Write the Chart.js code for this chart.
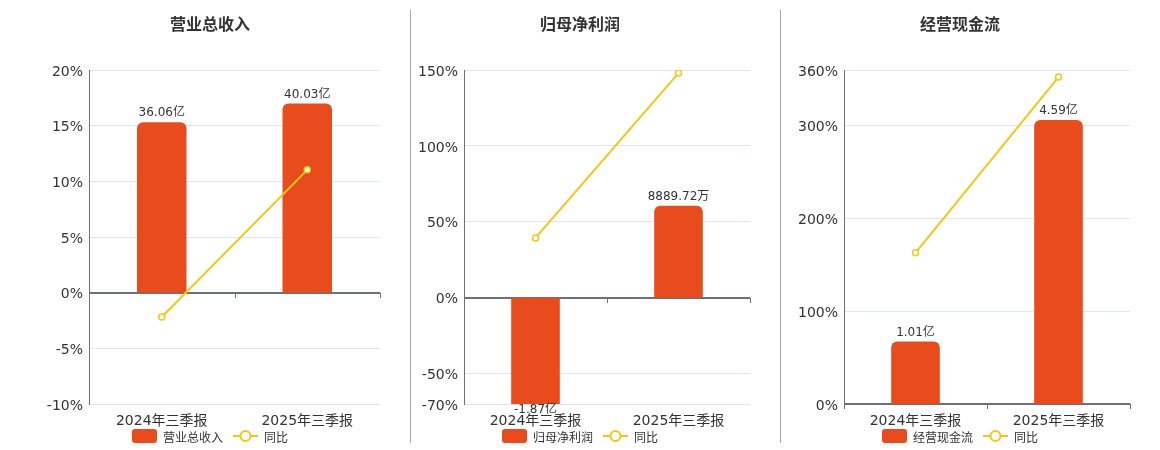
<!DOCTYPE html>
<html><head><meta charset="utf-8">
<script src="https://cdn.jsdelivr.net/npm/chart.js@4.4.1/dist/chart.umd.min.js"></script>
<style>
html,body{margin:0;padding:0;width:1160px;height:450px;overflow:hidden;background:#fff;}
.panel{position:absolute;top:0;width:400px;height:450px;}
.title{position:absolute;top:13px;left:0;width:400px;text-align:center;font:bold 16px "Noto Sans CJK SC",sans-serif;color:#333;line-height:20px;}
.divider{position:absolute;top:10px;width:1px;height:433px;background:#a8a8a8;}
.legend{position:absolute;left:0;width:400px;top:428px;height:16px;display:flex;justify-content:center;align-items:center;
  font:12px "DejaVu Sans","Noto Sans CJK SC",sans-serif;color:#333;}
.item{display:flex;align-items:center;margin:0 5px;}
.item svg{margin-right:6px;display:block;}
</style></head><body>
<div class="panel" style="left:10px"><div class="title" id="t0"></div><canvas id="c0" width="400" height="450"></canvas><div class="legend" id="l0"></div></div>
<div class="panel" style="left:380px"><div class="title" id="t1"></div><canvas id="c1" width="400" height="450"></canvas><div class="legend" id="l1"></div></div>
<div class="panel" style="left:760px"><div class="title" id="t2"></div><canvas id="c2" width="400" height="450"></canvas><div class="legend" id="l2"></div></div>
<div class="divider" style="left:410px"></div>
<div class="divider" style="left:780px"></div>
<script>
const categories = ['2024年三季报', '2025年三季报'];
const titles = ['营业总收入', '归母净利润', '经营现金流'];
const yoyLabel = '同比';
// bar values in 亿
const revenue = [36.06, 40.03];
const revenueYoY = [-2.19, 11.03];
const netProfit = [-1.87, 0.888972];
const netProfitYoY = [39.4, 148.0];
const cashFlow = [1.01, 4.59];
const cashFlowYoY = [163.0, 352.4];
const revenueTicks = [-10, -5, 0, 5, 10, 15, 20];
const netProfitTicks = [-70, -50, 0, 50, 100, 150];
const cashFlowTicks = [0, 100, 200, 300, 360];

const BAR = '#E84C1D', LINE = '#F5C518', AXIS = '#6E7079', GRID = '#E0E6F1', TXT = '#333';
const FONT = '"DejaVu Sans", "Noto Sans CJK SC", sans-serif';

function fmt(v) {
  return Math.abs(v) >= 1 ? v.toFixed(2) + '亿' : (v * 10000).toFixed(2) + '万';
}

const barLabels = {
  id: 'barLabels',
  afterDatasetsDraw(chart) {
    const ctx = chart.ctx, area = chart.chartArea;
    const meta = chart.getDatasetMeta(0);
    const data = chart.data.datasets[0].data;
    ctx.save();
    ctx.font = '12px ' + FONT;
    ctx.fillStyle = TXT;
    ctx.textAlign = 'center';
    ctx.textBaseline = 'middle';
    meta.data.forEach((el, i) => {
      const v = data[i];
      let y;
      if (v >= 0) y = Math.max(el.y, area.top) - 9;
      else y = Math.min(el.y, area.bottom) + 6;
      ctx.fillText(fmt(v), el.x, y);
    });
    ctx.restore();
  }
};

const zeroTicks = {
  id: 'zeroTicks',
  afterDatasetsDraw(chart) {
    const xs = chart.scales.x, ys = chart.scales.y;
    const y0 = Math.round(ys.getPixelForValue(0));
    const n = chart.data.labels.length;
    const w = (xs.right - xs.left) / n;
    const ctx = chart.ctx;
    ctx.save();
    ctx.strokeStyle = AXIS; ctx.lineWidth = 1;
    for (let i = 0; i <= n; i++) {
      const px = Math.round(xs.left + i * w) + 0.5;
      ctx.beginPath(); ctx.moveTo(px, y0); ctx.lineTo(px, y0 + 5); ctx.stroke();
    }
    ctx.restore();
  }
};

function htmlLegend(idx, chart) {
  const box = document.getElementById('l' + idx);
  chart.data.datasets.forEach(ds => {
    const item = document.createElement('div');
    item.className = 'item';
    const icon = ds.type === 'bar'
      ? '<svg width="25" height="14"><rect x="0" y="0" width="25" height="14" rx="3" fill="' + ds.backgroundColor + '"/></svg>'
      : '<svg width="25" height="14"><line x1="0" y1="7" x2="25" y2="7" stroke="' + ds.borderColor + '" stroke-width="2"/><circle cx="12.5" cy="7" r="5" fill="#fff" stroke="' + ds.borderColor + '" stroke-width="2"/></svg>';
    item.innerHTML = icon;
    const t = document.createElement('span');
    t.textContent = ds.label;
    item.appendChild(t);
    box.appendChild(item);
  });
}

function build(idx, title, bars, yoy, ticks, axisW) {
  document.getElementById('t' + idx).textContent = title;
  const tMin = ticks[0], tMax = ticks[ticks.length - 1];
  const maxAbs = Math.max(...bars.map(Math.abs));
  const y2max = maxAbs / 0.85;
  const y2min = y2max * tMin / tMax;
  const chart = new Chart(document.getElementById('c' + idx), {
    type: 'bar',
    data: {
      labels: categories,
      datasets: [
        { type: 'bar', label: title, data: bars, yAxisID: 'y2', order: 1,
          backgroundColor: BAR, borderRadius: 6, borderSkipped: 'start',
          barPercentage: 0.34, categoryPercentage: 1, clip: 0 },
        { type: 'line', label: yoyLabel, data: yoy, yAxisID: 'y', order: 0,
          borderColor: LINE, borderWidth: 2, pointRadius: 3, pointBorderWidth: 1.5,
          pointBackgroundColor: '#fff', pointBorderColor: LINE, tension: 0 }
      ]
    },
    options: {
      responsive: false, animation: false,
      layout: { padding: { top: 70, left: 0, right: 0, bottom: 16 } },
      plugins: {
        tooltip: { enabled: false },
        title: { display: false },
        legend: { display: false }
      },
      scales: {
        x: {
          type: 'category', offset: true,
          grid: { display: false }, border: { display: false },
          ticks: { color: TXT, font: { size: 14, family: FONT }, padding: 1, maxRotation: 0, autoSkip: false },
          afterFit: s => { s.height = 30; }
        },
        y: {
          type: 'linear', position: 'left', min: tMin, max: tMax,
          afterBuildTicks: s => { s.ticks = ticks.map(v => ({ value: v })); },
          grid: {
            drawTicks: false,
            color: c => (c.tick && c.tick.value === 0) ? AXIS : GRID,
            lineWidth: c => (c.tick && c.tick.value === 0) ? 2 : 1
          },
          border: { display: true, color: AXIS, width: 1 },
          ticks: { color: TXT, font: { size: 14, family: FONT }, padding: 6, labelOffset: 2, callback: v => v + '%' },
          afterFit: s => { s.width = axisW; }
        },
        y2: {
          type: 'linear', position: 'right', min: y2min, max: y2max,
          grid: { display: false }, border: { display: false },
          ticks: { display: false },
          afterFit: s => { s.width = 30; }
        }
      }
    },
    plugins: [barLabels, zeroTicks]
  });
  htmlLegend(idx, chart);
}

build(0, titles[0], revenue, revenueYoY, revenueTicks, 79);
build(1, titles[1], netProfit, netProfitYoY, netProfitTicks, 84);
build(2, titles[2], cashFlow, cashFlowYoY, cashFlowTicks, 84);
</script>
</body></html>
